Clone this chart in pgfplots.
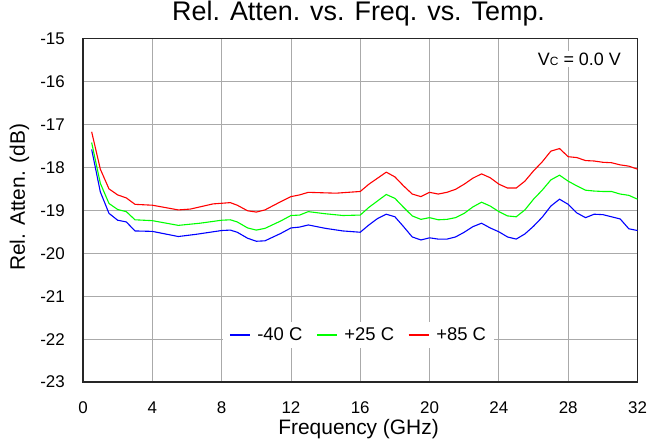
\documentclass[border=0pt]{standalone}
\usepackage{fontspec}
\setmainfont{Liberation Sans}
\usepackage{pgfplots}
\pgfplotsset{compat=1.18}
\usepackage{pgfplotstable}

\pgfplotstableread{
x y
0.5 -17.58
1.0 -18.57
1.5 -19.07
2.0 -19.23
2.5 -19.27
3.0 -19.48
4.0 -19.49
5.5 -19.61
6.5 -19.56
8.0 -19.47
8.5 -19.46
8.9 -19.51
9.5 -19.65
10.0 -19.72
10.5 -19.71
11.4 -19.54
12.0 -19.41
12.5 -19.39
13.0 -19.34
14.0 -19.42
15.0 -19.48
16.0 -19.51
16.5 -19.34
17.0 -19.19
17.5 -19.09
18.0 -19.15
18.5 -19.38
19.0 -19.62
19.5 -19.69
20.0 -19.64
20.5 -19.67
21.0 -19.67
21.5 -19.62
22.0 -19.51
22.5 -19.38
23.0 -19.30
23.5 -19.41
24.0 -19.50
24.5 -19.62
25.0 -19.67
25.5 -19.55
26.0 -19.37
26.5 -19.16
27.0 -18.90
27.5 -18.74
28.0 -18.86
28.5 -19.06
29.0 -19.17
29.5 -19.09
30.0 -19.10
30.5 -19.15
31.0 -19.20
31.5 -19.43
32.0 -19.47
}\tblue

\pgfplotstableread{
x y
0.5 -17.42
1.0 -18.37
1.5 -18.84
2.0 -18.98
2.5 -19.03
3.0 -19.22
4.0 -19.24
5.5 -19.35
6.75 -19.30
8.0 -19.23
8.5 -19.22
8.9 -19.27
9.5 -19.41
10.0 -19.46
10.5 -19.42
11.4 -19.25
12.0 -19.12
12.5 -19.11
13.0 -19.03
14.0 -19.08
15.0 -19.12
16.0 -19.11
16.5 -18.93
17.0 -18.78
17.5 -18.63
18.0 -18.72
18.5 -18.93
19.0 -19.13
19.5 -19.21
20.0 -19.17
20.5 -19.22
21.0 -19.21
21.5 -19.17
22.0 -19.07
22.5 -18.92
23.0 -18.81
23.5 -18.90
24.0 -19.03
24.5 -19.13
25.0 -19.15
25.5 -18.99
26.0 -18.74
26.5 -18.53
27.0 -18.29
27.5 -18.18
28.0 -18.32
28.5 -18.43
29.0 -18.53
29.5 -18.55
30.0 -18.56
30.5 -18.56
31.0 -18.62
31.5 -18.65
32.0 -18.74
}\tgreen

\pgfplotstableread{
x y
0.5 -17.17
1.0 -18.04
1.5 -18.50
2.0 -18.64
2.5 -18.71
3.0 -18.86
4.0 -18.88
5.5 -18.99
6.2 -18.97
7.5 -18.85
8.5 -18.82
8.9 -18.88
9.5 -19.01
10.0 -19.04
10.5 -18.99
11.4 -18.80
12.0 -18.68
12.5 -18.64
13.0 -18.58
14.6 -18.60
16.0 -18.56
16.5 -18.39
17.0 -18.25
17.5 -18.11
18.0 -18.22
18.5 -18.43
19.0 -18.62
19.5 -18.68
20.0 -18.58
20.5 -18.62
21.0 -18.58
21.5 -18.51
22.0 -18.39
22.5 -18.25
23.0 -18.15
23.5 -18.24
24.0 -18.39
24.5 -18.48
25.0 -18.48
25.5 -18.32
26.0 -18.08
26.5 -17.87
27.0 -17.62
27.5 -17.56
28.0 -17.75
28.5 -17.77
29.0 -17.84
29.5 -17.85
30.0 -17.88
30.5 -17.89
31.0 -17.94
31.5 -17.97
32.0 -18.04
}\tred

\definecolor{cblue}{RGB}{0,0,255}
\definecolor{cgreen}{RGB}{0,255,0}
\definecolor{cred}{RGB}{255,0,0}
\definecolor{gridc}{RGB}{170,170,170}

\begin{document}
\begin{tikzpicture}
\useasboundingbox (-83bp,-65bp) rectangle (567bp,382bp);
\begin{axis}[
  scale only axis,
  width=554.5bp, height=343.3bp,
  xmin=0, xmax=32, ymin=-23, ymax=-15,
  xtick={0,4,...,32}, ytick={-23,-22,...,-15},
  major tick length=0pt,
  grid=major,
  major grid style={gridc, line width=0.8bp},
  axis line style={black!85, line width=1.4bp},
  /pgf/number format/assume math mode=true,
  tick label style={font=\fontsize{17}{20}\selectfont},
  xticklabel style={anchor=base, yshift=-31bp},
  yticklabel style={anchor=east, inner sep=0pt, xshift=-18bp},
  title={Rel. Atten. vs. Freq. vs. Temp.},
  title style={font=\fontsize{27}{31}\selectfont, at={(axis description cs:0.497,1)}, anchor=base, yshift=12bp},
  xlabel={Frequency (GHz)},
  xlabel style={font=\fontsize{21}{24}\selectfont, at={(axis description cs:0.497,0)}, anchor=base, yshift=-52bp},
  ylabel={Rel. Atten. (dB)},
  ylabel style={font=\fontsize{21}{24}\selectfont, at={(axis description cs:-0.1046,0.538)}, anchor=base},
  legend columns=3,
  legend style={at={(axis description cs:0.497,0.137)}, anchor=center, draw=none, fill=white,
    font=\fontsize{18.5}{21}\selectfont, inner xsep=6bp, inner ysep=4bp,
    /tikz/every odd column/.append style={column sep=5bp},
    /tikz/every even column/.append style={column sep=12bp}},
  legend image code/.code={\draw[#1] (0bp,0bp) -- (20bp,0bp);},
  clip=true,
]
\addplot[cblue, line width=1.1bp] table[x=x,y=y] {\tblue};
\addlegendentry{-40 C}
\addplot[cgreen, line width=1.1bp] table[x=x,y=y] {\tgreen};
\addlegendentry{+25 C}
\addplot[cred, line width=1.1bp] table[x=x,y=y] {\tred};
\addlegendentry{+85 C}
\node[anchor=base east, fill=white, inner sep=2bp, font=\fontsize{18}{21}\selectfont] at (axis description cs:0.974,0.923) {V{\fontsize{12}{14}\selectfont C} = 0.0 V};
\end{axis}
\end{tikzpicture}
\end{document}
